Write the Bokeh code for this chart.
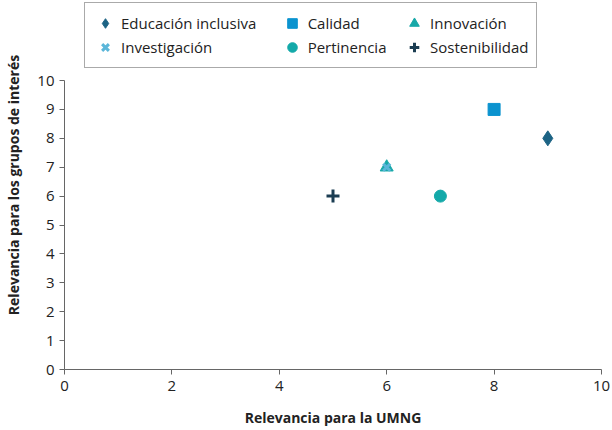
from bokeh.plotting import figure
from bokeh.models import Legend, LegendItem, Range1d, FixedTicker
from bokeh.embed import file_html
from bokeh.resources import INLINE

# data
series = ["Educación inclusiva", "Calidad", "Innovación", "Investigación", "Pertinencia", "Sostenibilidad"]
x_vals = [9, 8, 6, 6, 7, 5]
y_vals = [8, 9, 7, 7, 6, 6]
markers = ["diamond", "square", "triangle", "x", "circle", "cross"]
colors = ["#1c6384", "#0b93cf", "#17a8a8", "#5bb6d9", "#13a9a9", "#1b3d52"]
sizes = [15, 12, 13, 10, 12, 13]
x_ticks = [0, 2, 4, 6, 8, 10]
y_ticks = list(range(0, 11))

FONT = "Open Sans"
NB = "\u00a0"
# trailing non-breaking spaces widen the legend columns
label_pad = {"Educación inclusiva": 6, "Pertinencia": 4}

# plot area extends above y=10 to host the legend; the axis line stops at 10
p = figure(width=612, height=430, output_backend="svg", toolbar_location=None,
           x_range=Range1d(0, 10), y_range=Range1d(0, 12.77),
           min_border_left=64, min_border_right=11, min_border_top=0, min_border_bottom=61)
p.outline_line_color = None
p.xgrid.visible = False
p.ygrid.visible = False

items = []
for name, xv, yv, mk, c, s in zip(series, x_vals, y_vals, markers, colors, sizes):
    lw = 3 if mk in ("x", "cross") else 1
    r = p.scatter([xv], [yv], marker=mk, size=s, fill_color=c, line_color=c, line_width=lw)
    items.append(LegendItem(label=name + NB * label_pad.get(name, 0), renderers=[r]))

legend = Legend(items=items, orientation="horizontal", nrows=2, location=(20, 301))
legend.label_text_font = FONT
legend.label_text_font_size = "15px"
legend.label_text_color = "#222222"
legend.border_line_color = "#555555"
legend.border_line_width = 1
legend.background_fill_alpha = 1
legend.glyph_width = 24
legend.glyph_height = 24
legend.label_standoff = 4
legend.spacing = 0
legend.padding = 8
legend.margin = 0
legend.label_height = 20
p.add_layout(legend, "center")

for ax in (p.xaxis[0], p.yaxis[0]):
    ax.axis_line_color = "#666666"
    ax.major_tick_line_color = "#666666"
    ax.major_tick_out = 5
    ax.major_tick_in = 0
    ax.minor_tick_line_color = None
    ax.major_label_text_font = FONT
    ax.major_label_text_font_size = "15px"
    ax.major_label_text_color = "#222222"
    ax.axis_label_text_font = FONT
    ax.axis_label_text_font_size = "14px"
    ax.axis_label_text_font_style = "bold"
    ax.axis_label_text_color = "#222222"

p.xaxis.ticker = FixedTicker(ticks=x_ticks)
p.yaxis.ticker = FixedTicker(ticks=y_ticks)
p.yaxis.bounds = (0, 10)
p.xaxis.axis_label = "Relevancia para la UMNG"
p.yaxis.axis_label = "Relevancia para los grupos de interés"
p.xaxis.major_label_standoff = 6
p.yaxis.major_label_standoff = 5
p.xaxis.axis_label_standoff = 14
p.yaxis.axis_label_standoff = 11

open("out.html", "w").write(file_html(p, INLINE))
